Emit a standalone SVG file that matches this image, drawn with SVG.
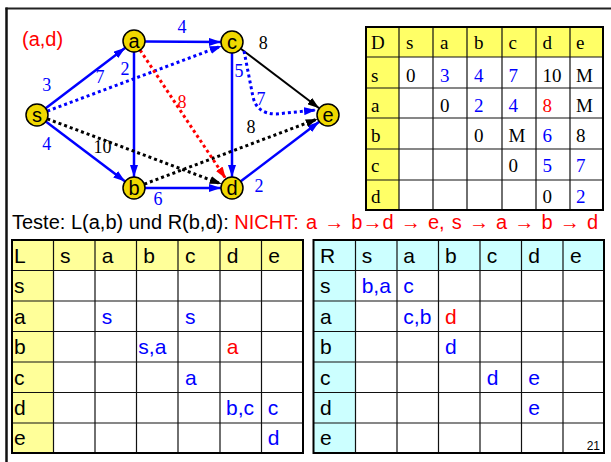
<svg xmlns="http://www.w3.org/2000/svg" width="611" height="462" viewBox="0 0 611 462">
<style>
.nl{font-family:"Liberation Sans",Arial,sans-serif;font-size:20px;text-anchor:middle;fill:#000}
.w{font-family:"Liberation Serif","Times New Roman",serif;font-size:18px;text-anchor:middle}
.dt{font-family:"Liberation Serif","Times New Roman",serif;font-size:19px;fill:#000}
.t{font-family:"Liberation Sans",Arial,sans-serif;font-size:21px;fill:#000}
.bl{fill:#0000FF}
.rd{fill:#FF0000}
.bk{fill:#000}
.node circle{fill:#F0D800;stroke:#000;stroke-width:1.5}
.sb{fill:none;stroke:#0000FF;stroke-width:2.5}
.sk{fill:none;stroke:#000;stroke-width:2}
.db{fill:none;stroke:#0000FF;stroke-width:3;stroke-dasharray:3 3}
.dk{fill:none;stroke:#000;stroke-width:3;stroke-dasharray:3 3}
.dr{fill:none;stroke:#FF0000;stroke-width:3;stroke-dasharray:3 3}
.grid{stroke:#111;stroke-width:1.2;fill:none}
.outer{stroke:#000;stroke-width:2;fill:none}
</style>
<defs>
<marker id="ab" viewBox="0 0 12 8" refX="12" refY="4" markerWidth="12" markerHeight="8" markerUnits="userSpaceOnUse" orient="auto"><path d="M0,0 L12,4 L0,8 Z" fill="#0000FF"/></marker>
<marker id="ak" viewBox="0 0 12 8" refX="12" refY="4" markerWidth="12" markerHeight="8" markerUnits="userSpaceOnUse" orient="auto"><path d="M0,0 L12,4 L0,8 Z" fill="#000"/></marker>
<marker id="ar" viewBox="0 0 12 8" refX="12" refY="4" markerWidth="12" markerHeight="8" markerUnits="userSpaceOnUse" orient="auto"><path d="M0,0 L12,4 L0,8 Z" fill="#FF0000"/></marker>
</defs>
<rect x="0" y="0" width="611" height="462" fill="#fff"/>
<!-- frame -->
<line x1="5.5" y1="8.5" x2="611" y2="8.5" stroke="#222" stroke-width="2"/>
<line x1="6.5" y1="7.5" x2="6.5" y2="462" stroke="#111" stroke-width="2.5"/>

<text x="22" y="46" font-family="Liberation Sans, Arial, sans-serif" font-size="20" fill="#FF0000">(a,d)</text>

<g id="connectors">
<line class="sb" x1="45.7" y1="108.3" x2="125.3" y2="47.7" marker-end="url(#ab)"/>
<line class="sb" x1="45.8" y1="121.6" x2="125.2" y2="181.4" marker-end="url(#ab)"/>
<line class="sb" x1="145" y1="41.5" x2="221" y2="42" marker-end="url(#ab)"/>
<line class="sb" x1="134" y1="52" x2="134" y2="177" marker-end="url(#ab)"/>
<line class="sb" x1="232" y1="53" x2="232" y2="177" marker-end="url(#ab)"/>
<line class="sb" x1="145" y1="188" x2="221" y2="188" marker-end="url(#ab)"/>
<line class="sb" x1="240.8" y1="181.3" x2="319.2" y2="121.7" marker-end="url(#ab)"/>
<line class="sk" x1="240.8" y1="48.7" x2="319.2" y2="108.3" marker-end="url(#ak)"/>
<line class="db" x1="47.3" y1="111.1" x2="221.7" y2="45.9" marker-end="url(#ab)"/>
<path class="db" d="M244,51 L253,97 Q257,114 276,114 L316,110" marker-end="url(#ab)"/>
<line class="dk" x1="47.3" y1="118.9" x2="221.7" y2="184.1" marker-end="url(#ak)"/>
<line class="dk" x1="144.3" y1="184.1" x2="317.7" y2="118.9" marker-end="url(#ak)"/>
<line class="dr" x1="140.1" y1="50.2" x2="225.9" y2="178.8" marker-end="url(#ar)"/>
<text class="w bl" x="46.7" y="90.5">3</text>
<text class="w bl" x="46.7" y="150">4</text>
<text class="w bl" x="182" y="33">4</text>
<text class="w bl" x="125" y="75">2</text>
<text class="w bl" x="100" y="83">7</text>
<text class="w bl" x="239" y="77">5</text>
<text class="w bk" x="263.3" y="49">8</text>
<text class="w bl" x="261" y="105">7</text>
<text class="w rd" x="182" y="108">8</text>
<text class="w bk" x="251" y="133">8</text>
<text class="w bk" x="102.5" y="153">10</text>
<text class="w bl" x="158" y="205">6</text>
<text class="w bl" x="259" y="191.5">2</text>
</g>

<g id="node-s" class="node"><circle cx="37" cy="115" r="11"/><text class="nl" x="37" y="122">s</text></g>
<g id="node-a" class="node"><circle cx="134" cy="41" r="11"/><text class="nl" x="134" y="48">a</text></g>
<g id="node-c" class="node"><circle cx="232" cy="42" r="11"/><text class="nl" x="232" y="49">c</text></g>
<g id="node-e" class="node"><circle cx="328" cy="115" r="11"/><text class="nl" x="328" y="122">e</text></g>
<g id="node-b" class="node"><circle cx="134" cy="188" r="11"/><text class="nl" x="134" y="195">b</text></g>
<g id="node-d" class="node"><circle cx="232" cy="188" r="11"/><text class="nl" x="232" y="195">d</text></g>

<!-- D table -->
<g id="table-D">
<rect x="366" y="27" width="237" height="183" fill="#fff"/>
<rect x="366" y="27" width="237" height="30" fill="#FFFF66"/>
<rect x="366" y="27" width="33" height="183" fill="#FFFF66"/>
<path class="grid" d="M399,27V210M433,27V210M467,27V210M502,27V210M536,27V210M570,27V210M366,57H603M366,88H603M366,118H603M366,149H603M366,180H603"/>
<rect class="outer" x="366" y="27" width="237" height="183"/>
<text class="dt" y="48.5"><tspan x="371">D</tspan><tspan x="406">s</tspan><tspan x="440">a</tspan><tspan x="474">b</tspan><tspan x="508.5">c</tspan><tspan x="542.5">d</tspan><tspan x="576">e</tspan></text>
<text class="dt" x="371" y="81.5">s</text>
<text class="dt" x="371" y="111.5">a</text>
<text class="dt" x="371" y="141.5">b</text>
<text class="dt" x="371" y="172">c</text>
<text class="dt" x="371" y="202.5">d</text>
<text class="dt" y="81.5"><tspan x="406">0</tspan><tspan x="440" class="bl">3</tspan><tspan x="474" class="bl">4</tspan><tspan x="508.5" class="bl">7</tspan><tspan x="542.5">10</tspan><tspan x="576">M</tspan></text>
<text class="dt" y="111.5"><tspan x="440">0</tspan><tspan x="474" class="bl">2</tspan><tspan x="508.5" class="bl">4</tspan><tspan x="542.5" class="rd">8</tspan><tspan x="576">M</tspan></text>
<text class="dt" y="141.5"><tspan x="474">0</tspan><tspan x="508.5">M</tspan><tspan x="542.5" class="bl">6</tspan><tspan x="576">8</tspan></text>
<text class="dt" y="172"><tspan x="508.5">0</tspan><tspan x="542.5" class="bl">5</tspan><tspan x="576" class="bl">7</tspan></text>
<text class="dt" y="202.5"><tspan x="542.5">0</tspan><tspan x="576" class="bl">2</tspan></text>
</g>

<text x="12" y="229" font-family="Liberation Sans, Arial, sans-serif" font-size="20" fill="#000">Teste: L(a,b) und R(b,d): <tspan fill="#FF0000" word-spacing="1.6">NICHT: a → b→d → e, s → a → b → d</tspan></text>

<!-- L table -->
<g id="table-L">
<rect x="12" y="240" width="291" height="213" fill="#fff"/>
<rect x="12" y="240" width="291" height="30.5" fill="#FFFF99"/>
<rect x="12" y="240" width="41.5" height="213" fill="#FFFF99"/>
<path class="grid" d="M53.5,240V453M95,240V453M136.5,240V453M178,240V453M220,240V453M261.5,240V453M12,270.5H303M12,301H303M12,331.5H303M12,362H303M12,392.5H303M12,423H303"/>
<rect class="outer" x="12" y="240" width="291" height="213"/>
<text class="t" y="262.5"><tspan x="14">L</tspan><tspan x="60">s</tspan><tspan x="101.7">a</tspan><tspan x="143.3">b</tspan><tspan x="185">c</tspan><tspan x="226.7">d</tspan><tspan x="268.3">e</tspan></text>
<text class="t" x="14" y="293.3">s</text>
<text class="t" x="14" y="323.5">a</text>
<text class="t" x="14" y="354">b</text>
<text class="t" x="14" y="384.7">c</text>
<text class="t" x="14" y="415.2">d</text>
<text class="t" x="14" y="445.2">e</text>
<text class="t bl" x="101.7" y="323.5">s</text>
<text class="t bl" x="185" y="323.5">s</text>
<text class="t bl" x="138.3" y="354">s,a</text>
<text class="t rd" x="226.7" y="354">a</text>
<text class="t bl" x="185" y="384.7">a</text>
<text class="t bl" x="226" y="415.2">b,c</text>
<text class="t bl" x="267.7" y="415.2">c</text>
<text class="t bl" x="267.7" y="445.2">d</text>
</g>

<!-- R table -->
<g id="table-R">
<rect x="313.5" y="240" width="290.5" height="213" fill="#fff"/>
<rect x="313.5" y="240" width="290.5" height="30.5" fill="#CCFFFF"/>
<rect x="313.5" y="240" width="42" height="213" fill="#CCFFFF"/>
<path class="grid" d="M355.5,240V453M397,240V453M438.5,240V453M480,240V453M521.5,240V453M563,240V453M313.5,270.5H604M313.5,301H604M313.5,331.5H604M313.5,362H604M313.5,392.5H604M313.5,423H604"/>
<rect class="outer" x="313.5" y="240" width="290.5" height="213"/>
<text class="t" y="262.5"><tspan x="320">R</tspan><tspan x="361.7">s</tspan><tspan x="403.3">a</tspan><tspan x="445">b</tspan><tspan x="486.7">c</tspan><tspan x="528.3">d</tspan><tspan x="570">e</tspan></text>
<text class="t" x="320" y="293.3">s</text>
<text class="t" x="320" y="323.5">a</text>
<text class="t" x="320" y="354">b</text>
<text class="t" x="320" y="384.7">c</text>
<text class="t" x="320" y="415.2">d</text>
<text class="t" x="320" y="445.2">e</text>
<text class="t bl" x="361.7" y="293.3">b,a</text>
<text class="t bl" x="403.3" y="293.3">c</text>
<text class="t bl" x="403.3" y="323.5">c,b</text>
<text class="t rd" x="445" y="323.5">d</text>
<text class="t bl" x="445" y="354">d</text>
<text class="t bl" x="486.7" y="384.7">d</text>
<text class="t bl" x="528.3" y="384.7">e</text>
<text class="t bl" x="528.3" y="415.2">e</text>
<text x="600" y="450" font-family="Liberation Sans, Arial, sans-serif" font-size="12" text-anchor="end" fill="#000">21</text>
</g>
</svg>
